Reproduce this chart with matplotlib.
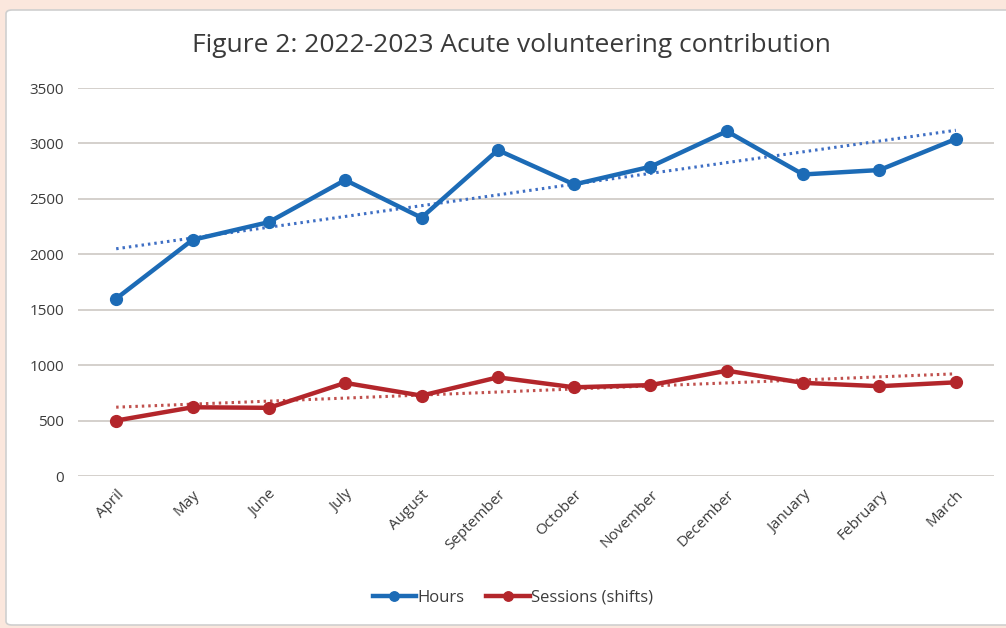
import numpy as np
import matplotlib.pyplot as plt
from matplotlib.patches import FancyBboxPatch

months = ["April", "May", "June", "July", "August", "September", "October",
          "November", "December", "January", "February", "March"]
hours = [1600, 2130, 2290, 2670, 2330, 2940, 2630, 2790, 3110, 2720, 2760, 3040]
sessions = [500, 620, 615, 840, 725, 890, 800, 820, 950, 840, 810, 845]

plt.rcParams['font.family'] = ['Open Sans', 'DejaVu Sans']

fig = plt.figure(figsize=(10.06, 6.28), dpi=100)
fig.patch.set_facecolor("#fbe7dd")

# white card behind the chart
card = FancyBboxPatch((6 / 1006, 3 / 628), 1.02, 615 / 628,
                      boxstyle="round,pad=0,rounding_size=0.006",
                      transform=fig.transFigure, facecolor="white",
                      edgecolor="#cfcfcf", linewidth=1.2, zorder=-5)
fig.patches.append(card)

ax = fig.add_axes([78 / 1006, 1 - 476 / 628, 916 / 1006, 388 / 628])
ax.set_facecolor("none")
ax.set_zorder(2)

x = np.arange(len(months))
blue = "#1c6bb6"
red = "#b3262b"

# linear trend lines
for vals, col in [(hours, "#3f6fc4"), (sessions, "#c0504d")]:
    k, b = np.polyfit(x, vals, 1)
    ax.plot(x, k * x + b, color=col, linewidth=2.2, linestyle=(0, (0.8, 1.3)), zorder=2)

ax.plot(x, hours, color=blue, linewidth=3.2, marker="o", markersize=8.5, label="Hours", zorder=3)
ax.plot(x, sessions, color=red, linewidth=3.2, marker="o", markersize=8.5,
        label="Sessions (shifts)", zorder=3)

ax.set_xlim(-0.5, 11.5)
ax.set_ylim(0, 3500)
ax.set_yticks(np.arange(0, 3501, 500))
ax.yaxis.grid(True, color="#d4d0cc", linewidth=1.4)
ax.set_axisbelow(True)
for s in ax.spines.values():
    s.set_visible(False)
ax.tick_params(axis="both", length=0, labelsize=11, colors="#3c3c3c")
ax.tick_params(axis="y", pad=10)
ax.set_xticks(x)
ax.set_xticklabels(months, rotation=45, ha="right", rotation_mode="anchor")
ax.tick_params(axis="x", pad=8)

fig.text(511 / 1006, 1 - 45 / 628, "Figure 2: 2022-2023 Acute volunteering contribution",
         ha="center", va="center", fontsize=19, color="#3a3a3a")

leg = ax.legend(loc="center", bbox_to_anchor=(513 / 1006, 1 - 598 / 628),
                bbox_transform=fig.transFigure, ncol=2, frameon=False,
                fontsize=12, handlelength=2.6, columnspacing=1.3, handletextpad=0.1,
                markerscale=0.8)
for t in leg.get_texts():
    t.set_color("#3c3c3c")

fig.savefig("out.png", dpi=100, facecolor=fig.get_facecolor())
